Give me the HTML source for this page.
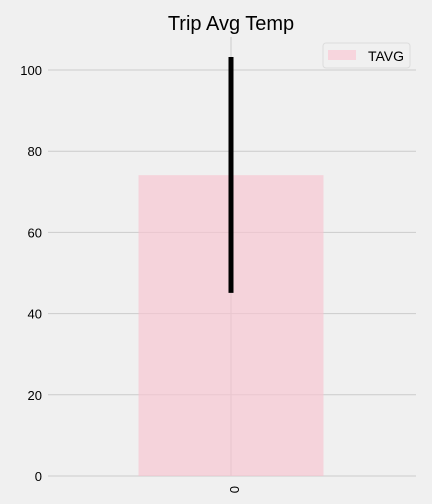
<!DOCTYPE html>
<html><head><meta charset="utf-8"><style>
body{margin:0;background:#f0f0f0;}
svg{display:block;font-family:"Liberation Sans",sans-serif;}
</style></head><body>
<svg id="chart" width="432" height="504" viewBox="0 0 432 504">
<rect width="432" height="504" fill="#f0f0f0"/>
<text x="231" y="30" font-size="20" text-anchor="middle" fill="#000">Trip Avg Temp</text>
<g id="grid"></g><g id="marks"></g><g id="ticks"></g>
<g>
<rect x="323" y="43" width="87" height="25" rx="3" fill="#f0f0f0" stroke="#dcdcdc"/>
<rect x="328" y="50" width="28" height="10" fill="#f7d5dd"/>
<text x="368" y="61" font-size="14" fill="#000">TAVG</text>
</g>
</svg>
<script>
const categories=["0"];
const tavg=[74.1];
const errLow=[45.1];
const errHigh=[103.2];
const yTicks=[0,20,40,60,80,100];
const X0=48,X1=416,Y0=476,Ytop=37;
const y=v=>Y0-v*4.06;
const xc=i=>231+i*0;
const ns="http://www.w3.org/2000/svg";
function mk(p,t,a){const e=document.createElementNS(ns,t);for(const k in a)e.setAttribute(k,a[k]);document.getElementById(p).appendChild(e);return e;}
yTicks.forEach(v=>{
 const l=mk('grid','line',{x1:X0,x2:X1,y1:y(v),y2:y(v),stroke:'#cbcbcb','stroke-width':1});
 
 
 const t=mk('ticks','text',{x:42,y:y(v)+5,'font-size':13,'text-anchor':'end',fill:'#000'});
 t.textContent=v;
 
 
});
categories.forEach((c,i)=>{
 const g=mk('grid','line',{x1:xc(i),x2:xc(i),y1:Ytop,y2:Y0,stroke:'#cbcbcb','stroke-width':1});
 
 
 const b=mk('marks','rect',{x:xc(i)-92.5,y:y(tavg[i]),width:185,height:Y0-y(tavg[i]),fill:'#f7c3cf','fill-opacity':0.65});
 
 
 const e=mk('marks','line',{x1:xc(i),x2:xc(i),y1:y(errHigh[i]),y2:y(errLow[i]),stroke:'#000','stroke-width':5});
 
 
 const t=mk('ticks','text',{x:xc(i)+5,y:486,'font-size':13,'text-anchor':'start',fill:'#000',transform:`rotate(90 ${xc(i)+5} 486)`});
 t.setAttribute('x',xc(i)-1);t.setAttribute('transform',`rotate(90 ${xc(i)-1} 486)`);
 t.textContent=c;
 
 
});
</script>
</body></html>
